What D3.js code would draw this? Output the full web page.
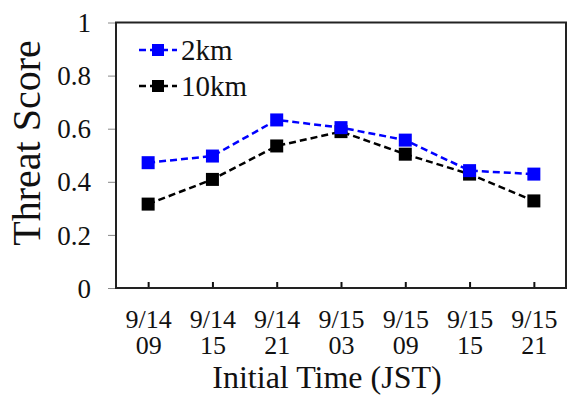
<!DOCTYPE html>
<html><head><meta charset="utf-8">
<script src="https://cdn.jsdelivr.net/npm/d3@7"></script>
<style>body{margin:0;background:#fff}svg{display:block}</style>
</head><body>
<script>
const categories = ["9/14|09","9/14|15","9/14|21","9/15|03","9/15|09","9/15|15","9/15|21"];
const series2km = [0.472,0.497,0.633,0.604,0.557,0.442,0.429];
const series10km = [0.316,0.409,0.535,0.589,0.504,0.429,0.328];
const yTicks = [0,0.2,0.4,0.6,0.8,1];
const seriesNames = ["2km","10km"];
const seriesColors = ["#0000ff","#000000"];

const W=569,H=406;
const L=116,R=566,T=22.5,B=288;
const font="Liberation Serif, Times New Roman, serif";
const svg=d3.select("body").append("svg").attr("width",W).attr("height",H);
const x=d3.scalePoint().domain(categories).range([L,R]).padding(0.5);
const y=d3.scaleLinear().domain([0,1]).range([B,T]);

// y axis
const ya=svg.append("g").attr("transform",`translate(${L},0)`)
  .call(d3.axisLeft(y).tickValues(yTicks).tickSize(8).tickPadding(17).tickFormat(d=>d3.format("")(d)));
ya.select(".domain").remove();
ya.selectAll(".tick line").attr("stroke","#888").attr("stroke-width",1);
ya.selectAll(".tick text").attr("font-family",font).attr("font-size",27).attr("fill","#111").attr("dy","0.34em");

// x axis ticks inside
const xa=svg.append("g").attr("transform",`translate(0,${B})`)
  .call(d3.axisBottom(x).tickSize(-6).tickFormat(""));
xa.select(".domain").remove();
xa.selectAll(".tick line").attr("stroke","#111").attr("stroke-width",2);
xa.selectAll(".tick").each(function(d){
  const parts=d.split("|");
  const g=d3.select(this);
  g.append("text").attr("y",328-B).attr("text-anchor","middle").attr("font-family",font).attr("font-size",26).attr("fill","#111").text(parts[0]);
  g.append("text").attr("y",354-B).attr("text-anchor","middle").attr("font-family",font).attr("font-size",26).attr("fill","#111").text(parts[1]);
});

// frame
svg.append("rect").attr("x",L).attr("y",T).attr("width",R-L).attr("height",B-T)
  .attr("fill","none").attr("stroke","#222").attr("stroke-width",2);

// lines
const data=[series2km,series10km];
const line=d3.line().x((d,i)=>x(categories[i])).y(d=>y(d));
[1,0].forEach(k=>{
  svg.append("path").datum(data[k]).attr("d",line).attr("fill","none")
    .attr("stroke",seriesColors[k]).attr("stroke-width",2.5).attr("stroke-dasharray","7,4");
  svg.selectAll(null).data(data[k]).enter().append("rect")
    .attr("x",(d,i)=>x(categories[i])-6.5).attr("y",d=>y(d)-6.5)
    .attr("width",13).attr("height",13).attr("fill",seriesColors[k]);
});

// legend
const legY=[50,86];
seriesNames.forEach((n,k)=>{
  svg.append("line").attr("x1",139).attr("x2",177).attr("y1",legY[k]).attr("y2",legY[k])
    .attr("stroke",seriesColors[k]).attr("stroke-width",2.5).attr("stroke-dasharray","7,4");
  svg.append("rect").attr("x",158-6).attr("y",legY[k]-6).attr("width",12).attr("height",12).attr("fill",seriesColors[k]);
  svg.append("text").attr("x",181).attr("y",legY[k]+10).attr("font-family",font).attr("font-size",29).attr("fill","#111").text(n);
});

// axis titles
svg.append("text").attr("x",327).attr("y",388).attr("text-anchor","middle").attr("font-family",font).attr("font-size",32).attr("fill","#111").text("Initial Time (JST)");
svg.append("text").attr("transform","translate(40,143) rotate(-90)").attr("text-anchor","middle").attr("font-family",font).attr("font-size",40).attr("fill","#111").text("Threat Score");
</script>
</body></html>
